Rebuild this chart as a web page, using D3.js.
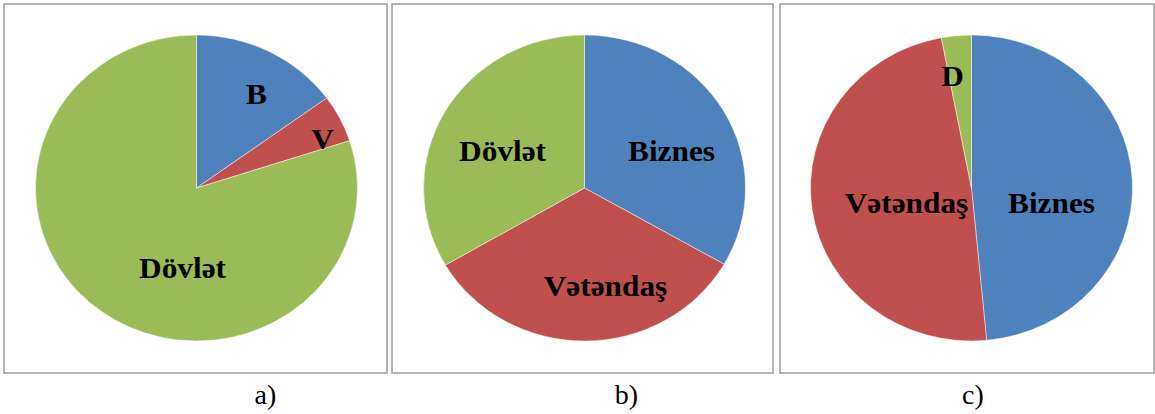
<!DOCTYPE html>
<html>
<head>
<meta charset="utf-8">
<script src="https://cdn.jsdelivr.net/npm/d3@7"></script>
<style>
  html, body { margin: 0; padding: 0; background: #ffffff; }
  svg { display: block; }
</style>
</head>
<body>
<svg id="chart" width="1155" height="414"></svg>
<script>
// ---- data ----
const categories = ["Biznes", "Vətəndaş", "Dövlət"];
const panelNames = ["a)", "b)", "c)"];
const valuesA = [15, 5, 80];
const valuesB = [33.3, 33.3, 33.4];
const valuesC = [48.5, 48.5, 3];
const labelsA = ["B", "V", "Dövlət"];
const labelsB = ["Biznes", "Vətəndaş", "Dövlət"];
const labelsC = ["Biznes", "Vətəndaş", "D"];

// ---- layout (positions/styles, not data) ----
const colors = d3.scaleOrdinal().domain(categories).range(["#4f81bd", "#c0504d", "#9bbb59"]);
const panels = [
  { values: valuesA, labels: labelsA, box: [4, 4, 383, 369], cx: 196.5, cy: 188,
    labelPos: [[60, -84], [126, -39], [-14, 90]] },
  { values: valuesB, labels: labelsB, box: [392, 4, 381, 369], cx: 584.5, cy: 188,
    labelPos: [[87, -27], [21, 108], [-82, -27]] },
  { values: valuesC, labels: labelsC, box: [780, 4, 374, 369], cx: 971.5, cy: 188,
    labelPos: [[80, 25], [-65, 25], [-19, -102]] }
];
const ry = 153, sx = 161 / 153;

const svg = d3.select("#chart");
const pie = d3.pie().sort(null).value(d => d);
const arc = d3.arc().innerRadius(0).outerRadius(ry);

panels.forEach((p, i) => {
  svg.append("rect")
    .attr("x", p.box[0]).attr("y", p.box[1])
    .attr("width", p.box[2]).attr("height", p.box[3])
    .attr("fill", "none").attr("stroke", "#a3a3a3").attr("stroke-width", 1.6);

  const g = svg.append("g").attr("transform", `translate(${p.cx},${p.cy})`);
  const pg = g.append("g").attr("transform", `scale(${sx},1)`);
  pg.selectAll("path")
    .data(pie(p.values))
    .enter().append("path")
    .attr("d", arc)
    .attr("fill", (d, j) => colors(categories[j]))
    .attr("stroke", "#ffffff").attr("stroke-opacity", 0.55).attr("stroke-width", 0.8);

  g.selectAll("text.lbl")
    .data(p.labels)
    .enter().append("text")
    .attr("class", "lbl")
    .attr("transform", (d, j) => `translate(${p.labelPos[j][0]},${p.labelPos[j][1]}) scale(1.08,1)`)
    .attr("text-anchor", "middle")
    .attr("font-family", "'Liberation Serif', 'Times New Roman', serif")
    .attr("font-weight", "bold")
    .attr("font-size", 29)
    .attr("fill", "#000")
    .text(d => d);

  svg.append("text")
    .attr("x", p.box[0] + p.box[2] / 2 + [70, 44, 6][i])
    .attr("y", 404)
    .attr("text-anchor", "middle")
    .attr("font-family", "'Liberation Serif', 'Times New Roman', serif")
    .attr("font-size", 28)
    .attr("fill", "#000")
    .text(panelNames[i]);
});
</script>
</body>
</html>
